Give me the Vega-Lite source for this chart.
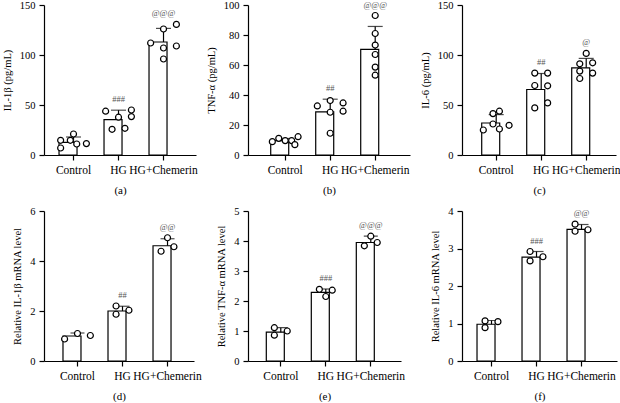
{
  "$schema": "https://vega.github.io/schema/vega-lite/v6.json",
  "padding": {"left": 2, "top": 0, "right": 0, "bottom": 0},
  "datasets": {
    "pts": [
      {"panel":"a","group":"Control","col":"1","value":7},
      {"panel":"a","group":"Control","col":"1","value":14.7},
      {"panel":"a","group":"Control","col":"4","value":14.7},
      {"panel":"a","group":"Control","col":"5","value":21},
      {"panel":"a","group":"Control","col":"6","value":11},
      {"panel":"a","group":"Control","col":"9","value":11.4},
      {"panel":"a","group":"HG","col":"1","value":43.8},
      {"panel":"a","group":"HG","col":"5","value":37.8},
      {"panel":"a","group":"HG","col":"9","value":45},
      {"panel":"a","group":"HG","col":"9","value":38.4},
      {"panel":"a","group":"HG","col":"3","value":25.7},
      {"panel":"a","group":"HG","col":"7","value":26.7},
      {"panel":"a","group":"HG+Chemerin","col":"1","value":112},
      {"panel":"a","group":"HG+Chemerin","col":"5","value":126},
      {"panel":"a","group":"HG+Chemerin","col":"9","value":130.6},
      {"panel":"a","group":"HG+Chemerin","col":"9","value":109},
      {"panel":"a","group":"HG+Chemerin","col":"5","value":107},
      {"panel":"a","group":"HG+Chemerin","col":"5","value":96},
      {"panel":"b","group":"Control","col":"1","value":8.9},
      {"panel":"b","group":"Control","col":"3","value":11.1},
      {"panel":"b","group":"Control","col":"5","value":9.6},
      {"panel":"b","group":"Control","col":"7","value":9.6},
      {"panel":"b","group":"Control","col":"9","value":12.2},
      {"panel":"b","group":"Control","col":"8","value":6.9},
      {"panel":"b","group":"HG","col":"1","value":32.7},
      {"panel":"b","group":"HG","col":"5","value":36.3},
      {"panel":"b","group":"HG","col":"9","value":34.7},
      {"panel":"b","group":"HG","col":"5","value":28.5},
      {"panel":"b","group":"HG","col":"9","value":29.2},
      {"panel":"b","group":"HG","col":"5","value":14.5},
      {"panel":"b","group":"HG+Chemerin","col":"5","value":93},
      {"panel":"b","group":"HG+Chemerin","col":"5","value":81},
      {"panel":"b","group":"HG+Chemerin","col":"5","value":73.3},
      {"panel":"b","group":"HG+Chemerin","col":"5","value":67},
      {"panel":"b","group":"HG+Chemerin","col":"5","value":58.6},
      {"panel":"b","group":"HG+Chemerin","col":"5","value":53.2},
      {"panel":"c","group":"Control","col":"1","value":25},
      {"panel":"c","group":"Control","col":"4","value":31},
      {"panel":"c","group":"Control","col":"4","value":41.4},
      {"panel":"c","group":"Control","col":"6","value":43.8},
      {"panel":"c","group":"Control","col":"6","value":26},
      {"panel":"c","group":"Control","col":"9","value":29.7},
      {"panel":"c","group":"HG","col":"3","value":81.9},
      {"panel":"c","group":"HG","col":"7","value":81.9},
      {"panel":"c","group":"HG","col":"3","value":69.5},
      {"panel":"c","group":"HG","col":"7","value":69.2},
      {"panel":"c","group":"HG","col":"3","value":47.1},
      {"panel":"c","group":"HG","col":"7","value":52.1},
      {"panel":"c","group":"HG+Chemerin","col":"5","value":101.6},
      {"panel":"c","group":"HG+Chemerin","col":"3","value":91.2},
      {"panel":"c","group":"HG+Chemerin","col":"7","value":92.2},
      {"panel":"c","group":"HG+Chemerin","col":"3","value":83.9},
      {"panel":"c","group":"HG+Chemerin","col":"7","value":81.9},
      {"panel":"c","group":"HG+Chemerin","col":"3","value":76.5},
      {"panel":"d","group":"Control","col":"1","value":0.88},
      {"panel":"d","group":"Control","col":"5","value":1.10},
      {"panel":"d","group":"Control","col":"9","value":1.02},
      {"panel":"d","group":"HG","col":"3","value":2.2},
      {"panel":"d","group":"HG","col":"3","value":1.87},
      {"panel":"d","group":"HG","col":"7","value":2.03},
      {"panel":"d","group":"HG+Chemerin","col":"3","value":4.39},
      {"panel":"d","group":"HG+Chemerin","col":"5","value":4.93},
      {"panel":"d","group":"HG+Chemerin","col":"7","value":4.57},
      {"panel":"e","group":"Control","col":"3","value":1.11},
      {"panel":"e","group":"Control","col":"3","value":0.86},
      {"panel":"e","group":"Control","col":"7","value":1.0},
      {"panel":"e","group":"HG","col":"3","value":2.39},
      {"panel":"e","group":"HG","col":"5","value":2.15},
      {"panel":"e","group":"HG","col":"7","value":2.36},
      {"panel":"e","group":"HG+Chemerin","col":"3","value":3.84},
      {"panel":"e","group":"HG+Chemerin","col":"5","value":4.16},
      {"panel":"e","group":"HG+Chemerin","col":"7","value":3.95},
      {"panel":"f","group":"Control","col":"3","value":1.07},
      {"panel":"f","group":"Control","col":"3","value":0.89},
      {"panel":"f","group":"Control","col":"7","value":1.05},
      {"panel":"f","group":"HG","col":"3","value":2.92},
      {"panel":"f","group":"HG","col":"3","value":2.67},
      {"panel":"f","group":"HG","col":"7","value":2.78},
      {"panel":"f","group":"HG+Chemerin","col":"3","value":3.65},
      {"panel":"f","group":"HG+Chemerin","col":"3","value":3.46},
      {"panel":"f","group":"HG+Chemerin","col":"7","value":3.50}
    ],
    "sum": [
      {"panel":"a","group":"Control","mean":12.7,"upper":18,"sig":"","sigAt":21},
      {"panel":"a","group":"HG","mean":35.4,"upper":44.8,"sig":"###","sigAt":45},
      {"panel":"a","group":"HG+Chemerin","mean":113,"upper":126.6,"sig":"@@@","sigAt":130.6},
      {"panel":"b","group":"Control","mean":9.6,"upper":11,"sig":"","sigAt":12.2},
      {"panel":"b","group":"HG","mean":28.7,"upper":37.2,"sig":"##","sigAt":37.2},
      {"panel":"b","group":"HG+Chemerin","mean":70.4,"upper":85.7,"sig":"@@@","sigAt":93},
      {"panel":"c","group":"Control","mean":32,"upper":40.4,"sig":"","sigAt":43.8},
      {"panel":"c","group":"HG","mean":65.5,"upper":81.5,"sig":"##","sigAt":81.9},
      {"panel":"c","group":"HG+Chemerin","mean":87.2,"upper":96.6,"sig":"@","sigAt":101.6},
      {"panel":"d","group":"Control","mean":1.0,"upper":1.12,"sig":"","sigAt":1.12},
      {"panel":"d","group":"HG","mean":2.0,"upper":2.19,"sig":"##","sigAt":2.2},
      {"panel":"d","group":"HG+Chemerin","mean":4.61,"upper":4.89,"sig":"@@","sigAt":4.93},
      {"panel":"e","group":"Control","mean":0.96,"upper":1.11,"sig":"","sigAt":1.11},
      {"panel":"e","group":"HG","mean":2.29,"upper":2.4,"sig":"###","sigAt":2.4},
      {"panel":"e","group":"HG+Chemerin","mean":3.95,"upper":4.16,"sig":"@@@","sigAt":4.16},
      {"panel":"f","group":"Control","mean":0.98,"upper":1.08,"sig":"","sigAt":1.08},
      {"panel":"f","group":"HG","mean":2.77,"upper":2.92,"sig":"###","sigAt":2.92},
      {"panel":"f","group":"HG+Chemerin","mean":3.51,"upper":3.64,"sig":"@@","sigAt":3.65}
    ]
  },
  "columns": 3,
  "align": "none",
  "bounds": "flush",
  "spacing": {"column": 52, "row": 56},
  "concat": [
    {
      "width": 152, "height": 150,
      "encoding": {
        "x": {"field": "group", "type": "nominal", "sort": ["Control","HG","HG+Chemerin"], "scale": {"paddingInner": 0.356, "paddingOuter": 0.367, "align": 0.455}, "axis": {"title": "(a)"}}
      },
      "layer": [
        {"data": {"name": "sum"}, "transform": [{"filter": "datum.panel === 'a'"}], "mark": {"type": "bar", "fill": "white", "stroke": "black", "strokeWidth": 1.2},
         "encoding": {"y": {"field": "mean", "type": "quantitative", "scale": {"domain": [0,150], "nice": false}, "axis": {"title": "IL-1β (pg/mL)", "values": [0,50,100,150], "tickCount": 20, "format": "d"}}}},
        {"data": {"name": "sum"}, "transform": [{"filter": "datum.panel === 'a'"}], "mark": {"type": "rule", "color": "black", "strokeWidth": 1.2},
         "encoding": {"y": {"field": "mean", "type": "quantitative"}, "y2": {"field": "upper"}}},
        {"data": {"name": "sum"}, "transform": [{"filter": "datum.panel === 'a'"}], "mark": {"type": "tick", "color": "black", "thickness": 1.2, "size": 15, "orient": "horizontal"},
         "encoding": {"y": {"field": "upper", "type": "quantitative"}}},
        {"data": {"name": "pts"}, "transform": [{"filter": "datum.panel === 'a'"}], "mark": {"type": "point", "shape": "circle", "filled": true, "fill": "white", "stroke": "black", "strokeWidth": 1.2, "size": 36, "opacity": 1},
         "encoding": {"xOffset": {"field": "col", "type": "nominal", "scale": {"domain": ["1","2","3","4","5","6","7","8","9"]}}, "y": {"field": "value", "type": "quantitative"}}},
        {"data": {"name": "sum"}, "transform": [{"filter": "datum.panel === 'a'"}], "mark": {"type": "text", "baseline": "bottom", "dy": -6, "font": "Liberation Serif", "fontSize": 8.5, "fill": "#555"},
         "encoding": {"y": {"field": "sigAt", "type": "quantitative"}, "text": {"field": "sig"}}}
      ]
    },
    {
      "width": 162, "height": 150,
      "encoding": {
        "x": {"field": "group", "type": "nominal", "sort": ["Control","HG","HG+Chemerin"], "scale": {"paddingInner": 0.356, "paddingOuter": 0.478, "align": 0.528}, "axis": {"title": "(b)"}}
      },
      "layer": [
        {"data": {"name": "sum"}, "transform": [{"filter": "datum.panel === 'b'"}], "mark": {"type": "bar", "fill": "white", "stroke": "black", "strokeWidth": 1.2},
         "encoding": {"y": {"field": "mean", "type": "quantitative", "scale": {"domain": [0,100], "nice": false}, "axis": {"title": "TNF-α (pg/mL)", "values": [0,20,40,60,80,100], "tickCount": 20, "format": "d"}}}},
        {"data": {"name": "sum"}, "transform": [{"filter": "datum.panel === 'b'"}], "mark": {"type": "rule", "color": "black", "strokeWidth": 1.2},
         "encoding": {"y": {"field": "mean", "type": "quantitative"}, "y2": {"field": "upper"}}},
        {"data": {"name": "sum"}, "transform": [{"filter": "datum.panel === 'b'"}], "mark": {"type": "tick", "color": "black", "thickness": 1.2, "size": 15, "orient": "horizontal"},
         "encoding": {"y": {"field": "upper", "type": "quantitative"}}},
        {"data": {"name": "pts"}, "transform": [{"filter": "datum.panel === 'b'"}], "mark": {"type": "point", "shape": "circle", "filled": true, "fill": "white", "stroke": "black", "strokeWidth": 1.2, "size": 36, "opacity": 1},
         "encoding": {"xOffset": {"field": "col", "type": "nominal", "scale": {"domain": ["1","2","3","4","5","6","7","8","9"]}}, "y": {"field": "value", "type": "quantitative"}}},
        {"data": {"name": "sum"}, "transform": [{"filter": "datum.panel === 'b'"}], "mark": {"type": "text", "baseline": "bottom", "dy": -6, "font": "Liberation Serif", "fontSize": 8.5, "fill": "#555"},
         "encoding": {"y": {"field": "sigAt", "type": "quantitative"}, "text": {"field": "sig"}}}
      ]
    },
    {
      "width": 154, "height": 150,
      "encoding": {
        "x": {"field": "group", "type": "nominal", "sort": ["Control","HG","HG+Chemerin"], "scale": {"paddingInner": 0.356, "paddingOuter": 0.389, "align": 0.563}, "axis": {"title": "(c)"}}
      },
      "layer": [
        {"data": {"name": "sum"}, "transform": [{"filter": "datum.panel === 'c'"}], "mark": {"type": "bar", "fill": "white", "stroke": "black", "strokeWidth": 1.2},
         "encoding": {"y": {"field": "mean", "type": "quantitative", "scale": {"domain": [0,150], "nice": false}, "axis": {"title": "IL-6 (pg/mL)", "values": [0,50,100,150], "tickCount": 20, "format": "d"}}}},
        {"data": {"name": "sum"}, "transform": [{"filter": "datum.panel === 'c'"}], "mark": {"type": "rule", "color": "black", "strokeWidth": 1.2},
         "encoding": {"y": {"field": "mean", "type": "quantitative"}, "y2": {"field": "upper"}}},
        {"data": {"name": "sum"}, "transform": [{"filter": "datum.panel === 'c'"}], "mark": {"type": "tick", "color": "black", "thickness": 1.2, "size": 15, "orient": "horizontal"},
         "encoding": {"y": {"field": "upper", "type": "quantitative"}}},
        {"data": {"name": "pts"}, "transform": [{"filter": "datum.panel === 'c'"}], "mark": {"type": "point", "shape": "circle", "filled": true, "fill": "white", "stroke": "black", "strokeWidth": 1.2, "size": 36, "opacity": 1},
         "encoding": {"xOffset": {"field": "col", "type": "nominal", "scale": {"domain": ["1","2","3","4","5","6","7","8","9"]}}, "y": {"field": "value", "type": "quantitative"}}},
        {"data": {"name": "sum"}, "transform": [{"filter": "datum.panel === 'c'"}], "mark": {"type": "text", "baseline": "bottom", "dy": -6, "font": "Liberation Serif", "fontSize": 8.5, "fill": "#555"},
         "encoding": {"y": {"field": "sigAt", "type": "quantitative"}, "text": {"field": "sig"}}}
      ]
    },
    {
      "width": 150, "height": 150,
      "encoding": {
        "x": {"field": "group", "type": "nominal", "sort": ["Control","HG","HG+Chemerin"], "scale": {"paddingInner": 0.356, "paddingOuter": 0.344, "align": 0.613}, "axis": {"title": "(d)"}}
      },
      "layer": [
        {"data": {"name": "sum"}, "transform": [{"filter": "datum.panel === 'd'"}], "mark": {"type": "bar", "fill": "white", "stroke": "black", "strokeWidth": 1.2},
         "encoding": {"y": {"field": "mean", "type": "quantitative", "scale": {"domain": [0,6], "nice": false}, "axis": {"title": "Relative IL-1β mRNA level", "values": [0,2,4,6], "tickCount": 20, "format": "d"}}}},
        {"data": {"name": "sum"}, "transform": [{"filter": "datum.panel === 'd'"}], "mark": {"type": "rule", "color": "black", "strokeWidth": 1.2},
         "encoding": {"y": {"field": "mean", "type": "quantitative"}, "y2": {"field": "upper"}}},
        {"data": {"name": "sum"}, "transform": [{"filter": "datum.panel === 'd'"}], "mark": {"type": "tick", "color": "black", "thickness": 1.2, "size": 14, "orient": "horizontal"},
         "encoding": {"y": {"field": "upper", "type": "quantitative"}}},
        {"data": {"name": "pts"}, "transform": [{"filter": "datum.panel === 'd'"}], "mark": {"type": "point", "shape": "circle", "filled": true, "fill": "white", "stroke": "black", "strokeWidth": 1.2, "size": 36, "opacity": 1},
         "encoding": {"xOffset": {"field": "col", "type": "nominal", "scale": {"domain": ["1","2","3","4","5","6","7","8","9"]}}, "y": {"field": "value", "type": "quantitative"}}},
        {"data": {"name": "sum"}, "transform": [{"filter": "datum.panel === 'd'"}], "mark": {"type": "text", "baseline": "bottom", "dy": -6, "font": "Liberation Serif", "fontSize": 8.5, "fill": "#555"},
         "encoding": {"y": {"field": "sigAt", "type": "quantitative"}, "text": {"field": "sig"}}}
      ]
    },
    {
      "width": 153, "height": 150,
      "encoding": {
        "x": {"field": "group", "type": "nominal", "sort": ["Control","HG","HG+Chemerin"], "scale": {"paddingInner": 0.356, "paddingOuter": 0.378, "align": 0.538}, "axis": {"title": "(e)"}}
      },
      "layer": [
        {"data": {"name": "sum"}, "transform": [{"filter": "datum.panel === 'e'"}], "mark": {"type": "bar", "fill": "white", "stroke": "black", "strokeWidth": 1.2},
         "encoding": {"y": {"field": "mean", "type": "quantitative", "scale": {"domain": [0,5], "nice": false}, "axis": {"title": "Relative TNF-α mRNA level", "values": [0,1,2,3,4,5], "tickCount": 20, "format": "d"}}}},
        {"data": {"name": "sum"}, "transform": [{"filter": "datum.panel === 'e'"}], "mark": {"type": "rule", "color": "black", "strokeWidth": 1.2},
         "encoding": {"y": {"field": "mean", "type": "quantitative"}, "y2": {"field": "upper"}}},
        {"data": {"name": "sum"}, "transform": [{"filter": "datum.panel === 'e'"}], "mark": {"type": "tick", "color": "black", "thickness": 1.2, "size": 14, "orient": "horizontal"},
         "encoding": {"y": {"field": "upper", "type": "quantitative"}}},
        {"data": {"name": "pts"}, "transform": [{"filter": "datum.panel === 'e'"}], "mark": {"type": "point", "shape": "circle", "filled": true, "fill": "white", "stroke": "black", "strokeWidth": 1.2, "size": 36, "opacity": 1},
         "encoding": {"xOffset": {"field": "col", "type": "nominal", "scale": {"domain": ["1","2","3","4","5","6","7","8","9"]}}, "y": {"field": "value", "type": "quantitative"}}},
        {"data": {"name": "sum"}, "transform": [{"filter": "datum.panel === 'e'"}], "mark": {"type": "text", "baseline": "bottom", "dy": -6, "font": "Liberation Serif", "fontSize": 8.5, "fill": "#555"},
         "encoding": {"y": {"field": "sigAt", "type": "quantitative"}, "text": {"field": "sig"}}}
      ]
    },
    {
      "width": 155, "height": 150,
      "encoding": {
        "x": {"field": "group", "type": "nominal", "sort": ["Control","HG","HG+Chemerin"], "scale": {"paddingInner": 0.356, "paddingOuter": 0.4, "align": 0.417}, "axis": {"title": "(f)"}}
      },
      "layer": [
        {"data": {"name": "sum"}, "transform": [{"filter": "datum.panel === 'f'"}], "mark": {"type": "bar", "fill": "white", "stroke": "black", "strokeWidth": 1.2},
         "encoding": {"y": {"field": "mean", "type": "quantitative", "scale": {"domain": [0,4], "nice": false}, "axis": {"title": "Relative IL-6 mRNA level", "values": [0,1,2,3,4], "tickCount": 20, "format": "d"}}}},
        {"data": {"name": "sum"}, "transform": [{"filter": "datum.panel === 'f'"}], "mark": {"type": "rule", "color": "black", "strokeWidth": 1.2},
         "encoding": {"y": {"field": "mean", "type": "quantitative"}, "y2": {"field": "upper"}}},
        {"data": {"name": "sum"}, "transform": [{"filter": "datum.panel === 'f'"}], "mark": {"type": "tick", "color": "black", "thickness": 1.2, "size": 14, "orient": "horizontal"},
         "encoding": {"y": {"field": "upper", "type": "quantitative"}}},
        {"data": {"name": "pts"}, "transform": [{"filter": "datum.panel === 'f'"}], "mark": {"type": "point", "shape": "circle", "filled": true, "fill": "white", "stroke": "black", "strokeWidth": 1.2, "size": 36, "opacity": 1},
         "encoding": {"xOffset": {"field": "col", "type": "nominal", "scale": {"domain": ["1","2","3","4","5","6","7","8","9"]}}, "y": {"field": "value", "type": "quantitative"}}},
        {"data": {"name": "sum"}, "transform": [{"filter": "datum.panel === 'f'"}], "mark": {"type": "text", "baseline": "bottom", "dy": -6, "font": "Liberation Serif", "fontSize": 8.5, "fill": "#555"},
         "encoding": {"y": {"field": "sigAt", "type": "quantitative"}, "text": {"field": "sig"}}}
      ]
    }
  ],
  "config": {
    "view": {"stroke": null},
    "font": "Liberation Serif",
    "axis": {
      "domainColor": "black", "domainWidth": 1.2, "tickColor": "black", "tickWidth": 1.2, "tickSize": 5,
      "labelFont": "Liberation Serif", "labelColor": "black", "titleFont": "Liberation Serif", "titleColor": "black",
      "titleFontWeight": "normal", "grid": false
    },
    "axisX": {"labelAngle": 0, "labelOverlap": false, "labelFontSize": 11.5, "labelPadding": 4, "titleFontSize": 11, "titlePadding": 9, "labelBound": false},
    "axisY": {"labelFontSize": 10.5, "labelPadding": 4, "titleFontSize": 10.5, "titlePadding": 7, "labelOverlap": false}
  }
}
